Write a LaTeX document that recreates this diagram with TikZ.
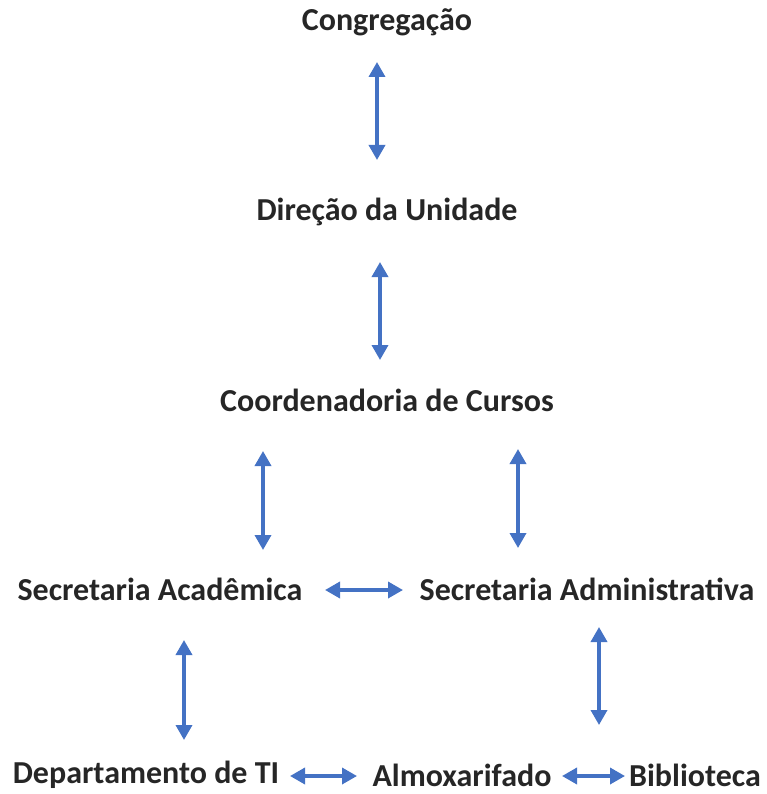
\documentclass[tikz,border=0pt]{standalone}
\usepackage{fontspec}
\setmainfont{Carlito}
\usetikzlibrary{arrows.meta}
\definecolor{arrowblue}{HTML}{4472C4}
\definecolor{txt}{HTML}{262626}
\tikzset{
  lbl/.style={font=\bfseries\fontsize{32}{36}\selectfont, text=txt, inner sep=0pt, anchor=center},
  link/.style={arrowblue, line width=3.5pt, {Triangle[width=16pt,length=15pt]}-{Triangle[width=16pt,length=15pt]}}
}
\begin{document}
\begin{tikzpicture}[x=1pt,y=-1pt]
\useasboundingbox (0,0) rectangle (767,794);
\node[lbl] (cong) at (387,22) {Congregação};
\node[lbl] (dir) at (387,212) {Direção da Unidade};
\node[lbl] (coord) at (387,400) {Coordenadoria de Cursos};
\node[lbl] (sacad) at (160,589) {Secretaria Acadêmica};
\node[lbl] (sadm) at (587,589) {Secretaria Administrativa};
\node[lbl] (dti) at (146,775) {Departamento de TI};
\node[lbl] (alm) at (462,775) {Almoxarifado};
\node[lbl] (bib) at (695,775) {Biblioteca};
\coordinate (a1) at (377,62); \coordinate (b1) at (377,160);
\coordinate (a2) at (380,262); \coordinate (b2) at (380,360);
\coordinate (a3) at (263,451); \coordinate (b3) at (263,550);
\coordinate (a4) at (518,449); \coordinate (b4) at (518,548);
\coordinate (a5) at (325,590); \coordinate (b5) at (403,590);
\coordinate (a6) at (184,640); \coordinate (b6) at (184,740);
\coordinate (a7) at (599,627); \coordinate (b7) at (599,725);
\coordinate (a8) at (290,776); \coordinate (b8) at (357,776);
\coordinate (a9) at (562,776); \coordinate (b9) at (625,776);
\draw[link] (a1) -- (b1);
\draw[link] (a2) -- (b2);
\draw[link] (a3) -- (b3);
\draw[link] (a4) -- (b4);
\draw[link] (a5) -- (b5);
\draw[link] (a6) -- (b6);
\draw[link] (a7) -- (b7);
\draw[link] (a8) -- (b8);
\draw[link] (a9) -- (b9);
\end{tikzpicture}
\end{document}
